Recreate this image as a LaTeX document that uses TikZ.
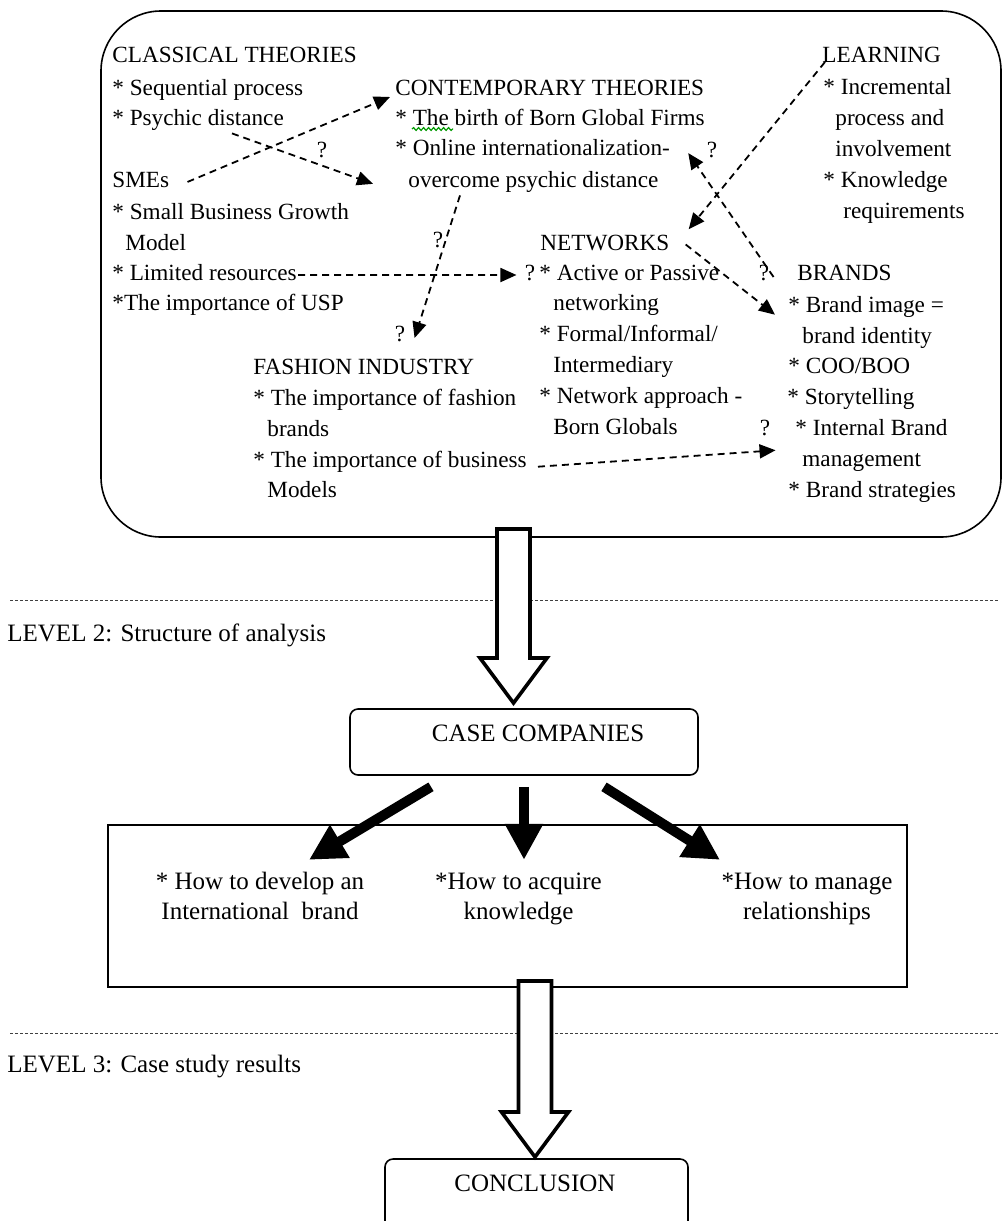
\documentclass[tikz,border=0pt]{standalone}
\usepackage{fontspec}
\setmainfont{Liberation Serif}
\usetikzlibrary{arrows.meta,calc,decorations.pathmorphing}

\tikzset{
  txt/.style={inner sep=0pt, anchor=base west, align=left, font=\fontsize{11.6}{15.4}\selectfont},
  lowtxt/.style={inner sep=0pt, align=center, font=\fontsize{12.5}{15}\selectfont},
  qmark/.style={inner sep=0pt, font=\fontsize{11.6}{15.4}\selectfont},
  dasharrow/.style={line width=0.9pt, dash pattern=on 3.5pt off 2.5pt, -{Triangle[length=8pt,width=7pt]}},
  fatarrow/.style={line width=5pt, -{Triangle[length=18pt,width=18pt]}},
  hollow/.style={draw, line width=1.8pt, fill=white, line join=miter},
  levelline/.style={line width=0.5pt, dash pattern=on 1.5pt off 1pt, black!75},
  frame/.style={draw, line width=0.8pt, inner sep=0pt}
}
% centre x, top y, tip y
\newcommand{\hollowarrow}[3]{%
  \draw[hollow] (#1-16.5,#2) -- (#1+16.5,#2) -- (#1+16.5,#3-45) -- (#1+33.5,#3-45)
    -- (#1,#3) -- (#1-33.5,#3-45) -- (#1-16.5,#3-45) -- cycle;}

\begin{document}
\begin{tikzpicture}[x=0.5pt,y=-0.5pt]
    \useasboundingbox (0,0) rectangle (1003,1221);
    \clip (0,0) rectangle (1003,1221);

    % level 1: theories
    \node[frame, rounded corners=30pt, minimum width=450pt, minimum height=263pt] (theory) at (551,274) {};

    % multi-line nodes sit on the baseline of their last line
    \node[txt] (classical) at (112,62) {CLASSICAL THEORIES};
    \node[txt] (sequential) at (112,95) {* Sequential process};
    \node[txt] (psychic) at (112,125) {* Psychic distance};

    \node[txt] (smes) at (112,187) {SMEs};
    \node[txt] (smesitems) at (112,250) {* Small Business Growth\\\hspace*{6.5pt}Model};
    \node[txt] (limited) at (112,280) {* Limited resources};
    \node[txt] (usp) at (112,310) {*The importance of USP};

    \node[txt] (contemp) at (395,95) {CONTEMPORARY THEORIES};
    \node[txt] (birth) at (395,125) {* The birth of Born Global Firms};
    \node[txt] (online) at (395,155) {* Online internationalization-};
    \node[txt] (overcome) at (408,187) {overcome psychic distance};

    \node[txt] (learning) at (822,62) {LEARNING};
    \node[txt] (learningitems) at (823,218) {* Incremental\\\hspace*{6pt}process and\\\hspace*{6pt}involvement\\* Knowledge\\\hspace*{10pt}requirements};

    \node[txt] (networks) at (540,250) {NETWORKS};
    \node[txt] (networksitems) at (539,434) {* Active or Passive\\\hspace*{7pt}networking\\* Formal/Informal/\\\hspace*{7pt}Intermediary\\* Network approach -\\\hspace*{7pt}Born Globals};

    \node[txt] (brands) at (797,280) {BRANDS};
    \node[txt] (brandsitems) at (787,497) {\hspace*{0.5pt}* Brand image =\\\hspace*{7.5pt}brand identity\\\hspace*{0.5pt}* COO/BOO\\* Storytelling\\\hspace*{4pt}* Internal Brand\\\hspace*{7.5pt}management\\\hspace*{0.5pt}* Brand strategies};

    \node[txt] (fashion) at (253,374) {FASHION INDUSTRY};
    \node[txt] (fashionitems) at (253,436) {* The importance of fashion\\\hspace*{7pt}brands};
    \node[txt] (business) at (253,467) {* The importance of business};
    \node[txt] (models) at (267,497) {Models};

    \node[qmark] (q1) at (322,150) {?};
    \node[qmark] (q2) at (712,150) {?};
    \node[qmark] (q3) at (438,240) {?};
    \node[qmark] (q4) at (400,334) {?};
    \node[qmark] (q5) at (530,273) {?};
    \node[qmark] (q6) at (764,273) {?};
    \node[qmark] (q7) at (765,428) {?};

    \draw[green!60!black, line width=0.6pt, decorate, decoration={snake, amplitude=0.7pt, segment length=2.5pt}]
        ([xshift=8.5pt,yshift=-2pt]birth.base west) -- ++(41,0);

    \draw[dasharrow] ([xshift=9pt,yshift=-1.25pt]smes.east) -- ([xshift=-2.5pt,yshift=-1pt]contemp.base west);
    \draw[dasharrow] ([xshift=60pt,yshift=-1.5pt]psychic.south west) -- ([xshift=-17.5pt,yshift=-1.2pt]overcome.west);
    \draw[dasharrow] ([xshift=26pt,yshift=-1.5pt]overcome.south west) -- ([xshift=4.5pt,yshift=-2pt]q4.east);
    \draw[dasharrow] ([xshift=0.5pt,yshift=-1.5pt]limited.east) -- ([xshift=-4pt,yshift=-1pt]q5.west);
    \draw[dasharrow] ([xshift=1.5pt]learning.base west) -- ([xshift=9.5pt,yshift=2.5pt]networks.north east);
    \draw[dasharrow] ([xshift=2pt,yshift=-2pt]q6.east) -- ([xshift=9pt,yshift=-3pt]online.east);
    \draw[dasharrow] ([xshift=8pt,yshift=-1pt]networks.east) -- ([xshift=-6pt,yshift=-9.5pt]brandsitems.north west);
    \draw[dasharrow] ([xshift=5.5pt,yshift=-2.7pt]business.east) -- ([xshift=2.5pt,yshift=-7pt]q7.south east);

    % level 2 and level 3
    \draw[levelline] (10,600) -- (1000,600);
    \draw[levelline] (10,1033) -- (1000,1033);
    \node[lowtxt, anchor=base west] (level2) at (7,641) {LEVEL 2: Structure of analysis};
    \node[lowtxt, anchor=base west] (level3) at (7,1072) {LEVEL 3: Case study results};

    \hollowarrow{513.5}{529}{703}

    \node[frame, rounded corners=4pt, minimum width=174pt, minimum height=33pt] (casebox) at (524,742) {};
    \node[lowtxt] (case) at (538,733) {CASE COMPANIES};

    \node[frame, line width=1pt, minimum width=399.5pt, minimum height=81pt] (questions) at (507.5,906) {};
    \node[lowtxt, anchor=base] (develop) at (260,919) {* How to develop an\\International~~brand};
    \node[lowtxt, anchor=base] (acquire) at (518.5,919) {*How to acquire\\knowledge};
    \node[lowtxt, anchor=base] (manage) at (807,919) {*How to manage\\relationships};

    \draw[fatarrow] ($(casebox.south)+(-93,11)$) -- ($(casebox.south)+(-215,84)$);
    \draw[fatarrow] ($(casebox.south)+(0,11)$) -- ($(casebox.south)+(0,84)$);
    \draw[fatarrow] ($(casebox.south)+(80,11)$) -- ($(casebox.south)+(196,84)$);

    \hollowarrow{535}{981}{1157}

    \node[frame, rounded corners=4pt, minimum width=151.5pt, minimum height=50pt] (conclbox) at (536.5,1209) {};
    \node[lowtxt] (conclusion) at (535,1183) {CONCLUSION};
\end{tikzpicture}
\end{document}
